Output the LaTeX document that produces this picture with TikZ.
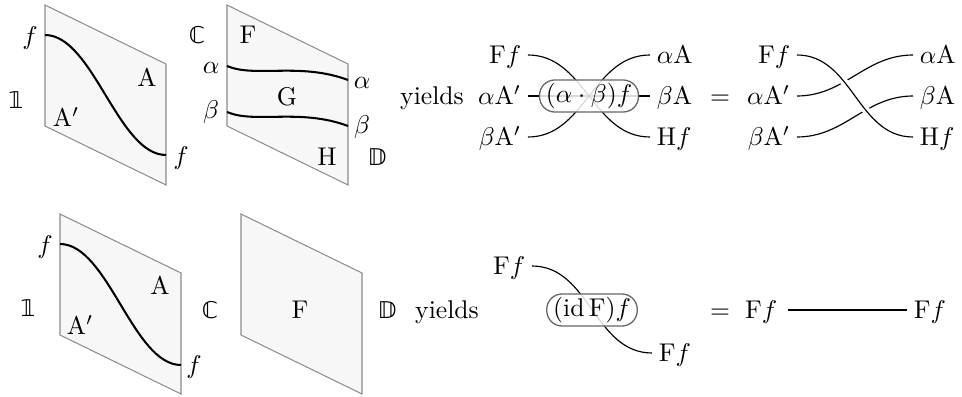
\documentclass[tikz,border=0pt]{standalone}
\usepackage{fontspec}
\newfontfamily\dsym{DejaVu Sans}
\newcommand{\dsone}{{\dsym\fontsize{9}{9}\selectfont 𝟙}}
\newcommand{\dsC}{{\dsym\fontsize{9}{9}\selectfont ℂ}}
\newcommand{\dsD}{{\dsym\fontsize{9}{9}\selectfont 𝔻}}
\begin{document}
\begin{tikzpicture}[x=0.39pt,y=-0.39pt,
  panel/.style={draw=black!45,fill=black!3,line width=0.4pt},
  strand/.style={line width=0.8pt},
  wire/.style={line width=0.45pt},
  lbl/.style={inner xsep=2.5pt,inner ysep=1pt,text height=1.55ex,text depth=0pt},
  coup/.style={draw=black!60,line width=0.5pt,rounded corners=6pt,fill=white,fill opacity=0.85,text opacity=1,minimum height=12.5pt,inner ysep=0.5pt,inner xsep=2.5pt},
  over/.style={preaction={draw=white,line width=3pt}}]
\useasboundingbox (0,0) rectangle (962,397);

% ---------- top-left panels ----------
\draw[panel] (45,5) -- (166,64) -- (166,185) -- (45,126) -- cycle;
\draw[strand] (45,35) .. controls (93,35) and (118,155) .. (166,155);
\node (p1fl) at (30,38) {$f$};
\node (p1fr) at (181,158) {$f$};
\node (p1A) at (147,77) {$\mathrm{A}$};
\node (p1Ap) at (66,117) {$\mathrm{A}'$};
\node (p1one) at (16,100) {\dsone};

\draw[panel] (227,5) -- (348,64) -- (348,185) -- (227,126) -- cycle;
\draw[strand] (227,66) .. controls (255,78) and (300,62) .. (348,80);
\draw[strand] (227,112) .. controls (255,124) and (300,108) .. (348,126);
\node (p2C) at (197,35) {\dsC};
\node (p2F) at (248,35) {$\mathrm{F}$};
\node (p2al) at (211,68) {$\alpha$};
\node (p2bl) at (211,112) {$\beta$};
\node (p2G) at (287,97) {$\mathrm{G}$};
\node (p2ar) at (362,83) {$\alpha$};
\node (p2br) at (362,127) {$\beta$};
\node (p2H) at (327,157) {$\mathrm{H}$};
\node (p2D) at (377,157) {\dsD};

% ---------- top-right string diagrams ----------
\node[lbl] (ty) at (432,96) {yields};
\node[lbl,anchor=east] (tFf) at (528,55) {$\mathrm{F}f$};
\node[lbl,anchor=east] (taAp) at (528,96) {$\alpha\mathrm{A}'$};
\node[lbl,anchor=east] (tbAp) at (528,137) {$\beta\mathrm{A}'$};
\node[lbl,anchor=west] (taA) at (650,55) {$\alpha\mathrm{A}$};
\node[lbl,anchor=west] (tbA) at (650,96) {$\beta\mathrm{A}$};
\node[lbl,anchor=west] (tHf) at (650,137) {$\mathrm{H}f$};
\draw[wire] (tFf.east) to[out=0,in=180] (tHf.west);
\draw[wire] (taAp.east) -- (tbA.west);
\draw[wire] (tbAp.east) to[out=0,in=180] (taA.west);
\node[coup] (tbox) at (589,96) {$(\alpha\cdot\beta)f$};

\node[lbl] (teq) at (720,96) {$=$};
\node[lbl,anchor=east] (rFf) at (797,55) {$\mathrm{F}f$};
\node[lbl,anchor=east] (raAp) at (797,96) {$\alpha\mathrm{A}'$};
\node[lbl,anchor=east] (rbAp) at (797,137) {$\beta\mathrm{A}'$};
\node[lbl,anchor=west] (raA) at (913,55) {$\alpha\mathrm{A}$};
\node[lbl,anchor=west] (rbA) at (913,96) {$\beta\mathrm{A}$};
\node[lbl,anchor=west] (rHf) at (913,137) {$\mathrm{H}f$};
\draw[wire] (raAp.east) to[out=0,in=180] (raA.west);
\draw[wire] (rbAp.east) to[out=0,in=180] (rbA.west);
\draw[wire,over] (rFf.east) to[out=0,in=180] (rHf.west);

% ---------- bottom-left panels ----------
\draw[panel] (60,214) -- (181,273) -- (181,394) -- (60,335) -- cycle;
\draw[strand] (60,244) .. controls (108,244) and (133,365) .. (181,365);
\node (p3one) at (28,308) {\dsone};
\node (p3fl) at (45,247) {$f$};
\node (p3A) at (160,285) {$\mathrm{A}$};
\node (p3Ap) at (80,325) {$\mathrm{A}'$};
\node (p3fr) at (194,367) {$f$};
\node (p3C) at (210,310) {\dsC};

\draw[panel] (241,214) -- (362,273) -- (362,394) -- (241,335) -- cycle;
\node (p4F) at (300,310) {$\mathrm{F}$};
\node (p4D) at (387,310) {\dsD};

% ---------- bottom-right string diagrams ----------
\node[lbl] (by) at (447,310) {yields};
\node[lbl,anchor=east] (bFfa) at (532,266) {$\mathrm{F}f$};
\node[lbl,anchor=west] (bFfb) at (652,353) {$\mathrm{F}f$};
\draw[wire] (bFfa.east) to[out=0,in=180] (bFfb.west);
\node[coup] (bbox) at (592,310) {$(\mathrm{id}\,\mathrm{F})f$};

\node[lbl] (beq) at (720,310) {$=$};
\node[lbl,anchor=east] (bFfc) at (784,310) {$\mathrm{F}f$};
\node[lbl,anchor=west] (bFfd) at (907,310) {$\mathrm{F}f$};
\draw[wire,shorten <=1.5pt] (bFfc.east) -- (bFfd.west);
\end{tikzpicture}
\end{document}
